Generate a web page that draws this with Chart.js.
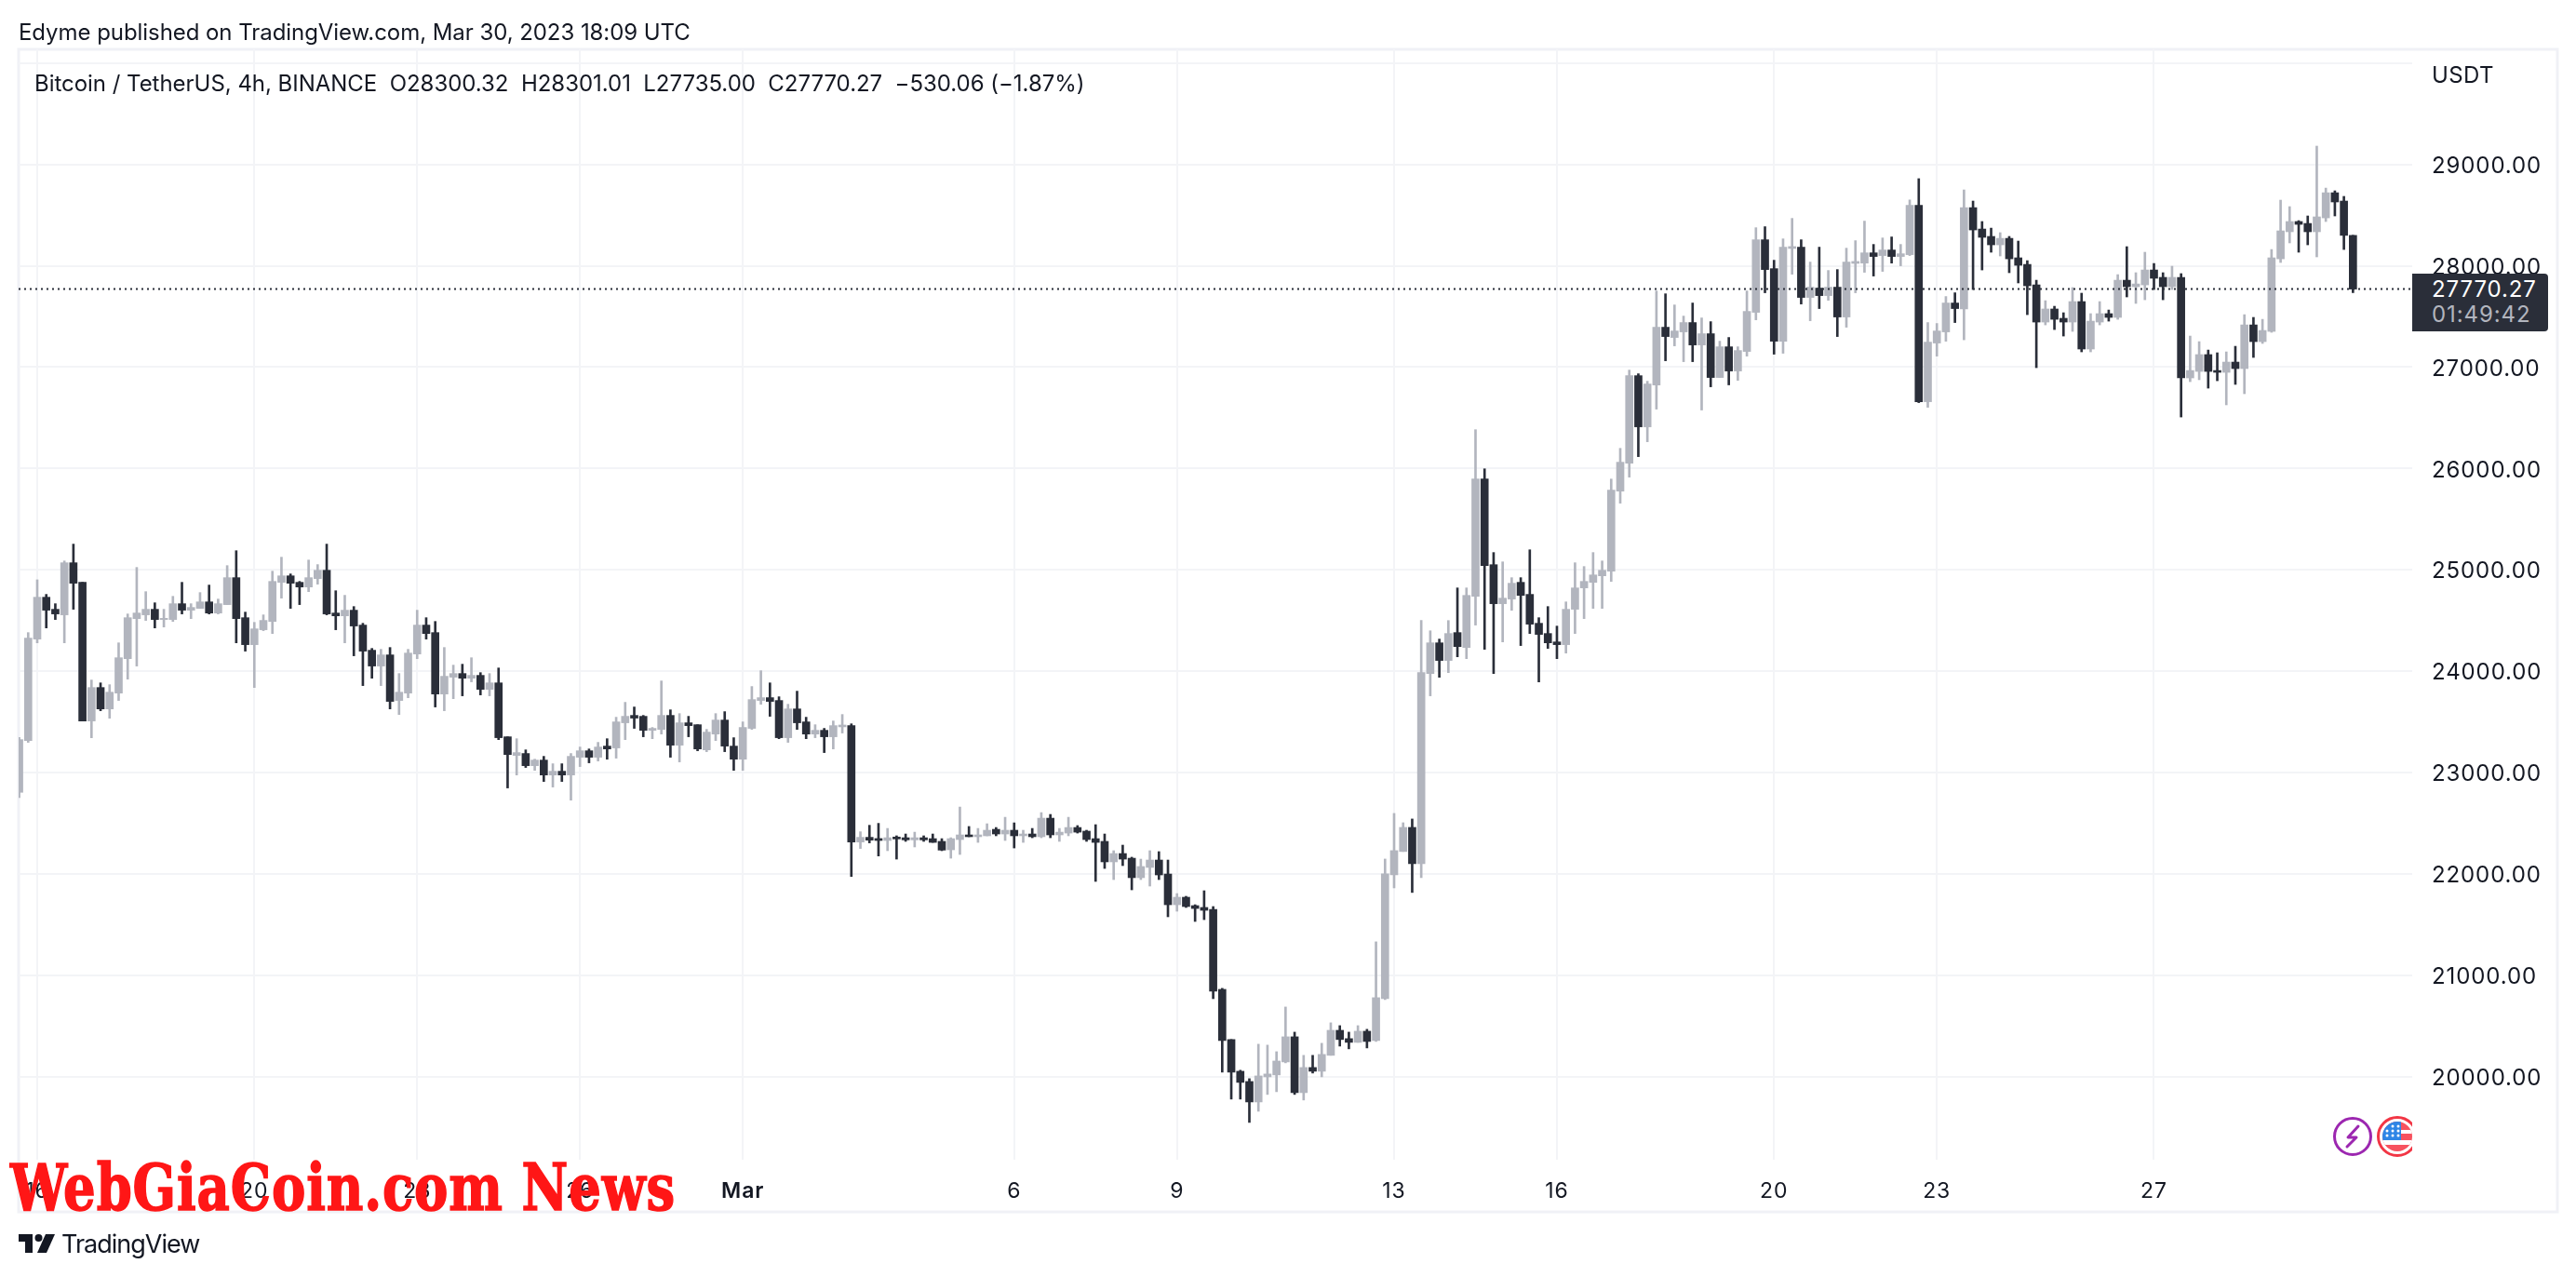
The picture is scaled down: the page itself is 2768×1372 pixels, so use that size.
<!DOCTYPE html>
<html><head><meta charset="utf-8">
<script src="https://cdn.jsdelivr.net/npm/chart.js@4"></script>
<style>
html,body{margin:0;padding:0;background:#fff;width:2768px;height:1372px;overflow:hidden}
#wrap{position:relative;width:2768px;height:1372px;font-family:Inter,"Noto Sans",sans-serif;color:#131722}
canvas{position:absolute;left:0;top:0}
.t{position:absolute;white-space:pre;line-height:1}
#tag{position:absolute;left:2592px;top:294px;width:146px;height:62px;background:#2a2e39;border-radius:0 4px 4px 0}
#wm{position:absolute;left:11px;top:1241px;white-space:pre;font:bold 70px "DejaVu Serif Condensed","DejaVu Serif",serif;color:#ff1616;line-height:1;transform-origin:0 0;letter-spacing:1px;-webkit-text-stroke:1.5px #ff1616}
</style></head><body><div id="wrap">
<canvas id="c" width="2768" height="1372"></canvas>
<div class="t" id="pub" style="left:20px;top:23px;font-size:24px;letter-spacing:-.06px">Edyme published on TradingView.com, Mar 30, 2023 18:09 UTC</div>
<div class="t" id="leg" style="left:37px;top:78px;font-size:24px;letter-spacing:-.03px">Bitcoin / TetherUS, 4h, BINANCE  O28300.32  H28301.01  L27735.00  C27770.27  −530.06 (−1.87%)</div>
<div class="t" style="left:2613px;top:69px;font-size:24px;letter-spacing:.4px">USDT</div>
<div id="tag"></div>
<div class="t" style="left:2613px;top:299px;font-size:24px;color:#fff;letter-spacing:.9px">27770.27</div>
<div class="t" style="left:2613px;top:326px;font-size:24px;color:#b2b5be;letter-spacing:.9px">01:49:42</div>
<svg style="position:absolute;left:2500px;top:1190px" width="92" height="60" viewBox="0 0 92 60">
<circle cx="28" cy="31" r="19.5" fill="#fff" stroke="#9c27b0" stroke-width="3"/>
<path d="M34 20 L23 32 H32 L22 42" fill="none" stroke="#9c27b0" stroke-width="3" stroke-linejoin="round" stroke-linecap="round"/>
<circle cx="76" cy="31" r="20.5" fill="#fff" stroke="#f23645" stroke-width="3"/>
<clipPath id="fl"><circle cx="76" cy="31" r="16"/></clipPath>
<g clip-path="url(#fl)"><rect x="60" y="15" width="32" height="32" fill="#f7525f"/>
<rect x="60" y="24" width="32" height="4" fill="#fff"/><rect x="60" y="35" width="32" height="5" fill="#fff"/>
<rect x="60" y="15" width="20" height="20" fill="#2f86e6"/>
<g fill="#fff"><circle cx="65" cy="25" r="1.5"/><circle cx="71" cy="25" r="1.5"/><circle cx="77" cy="25" r="1.5"/><circle cx="65" cy="30" r="1.5"/><circle cx="71" cy="30" r="1.5"/><circle cx="77" cy="30" r="1.5"/><circle cx="71" cy="20" r="1.5"/><circle cx="77" cy="20" r="1.5"/></g></g>
</svg>
<div id="wm">WebGiaCoin.com News</div>
<svg style="position:absolute;left:20px;top:1326px" width="40" height="20" viewBox="0 0 40 20">
<path d="M0 0H15V20H7V8H0Z" fill="#131722"/><circle cx="21.5" cy="4" r="4" fill="#131722"/><path d="M29 0H39L30 20H20Z" fill="#131722"/>
</svg>
<div class="t" style="left:66px;top:1323px;font-size:27px;letter-spacing:-1px">TradingView</div>
</div>
<script>
const opens=[22805,23316,24317,24730,24611,24556,25070,24877,23509,23839,
23628,23784,24124,24519,24556,24611,24510,24510,24666,24602,
24620,24684,24574,24657,24923,24528,24262,24409,24491,24877,
24941,24877,24831,24914,24996,24574,24546,24602,24455,24207,
24051,24161,23711,23784,24170,24455,24381,23775,23941,23977,
23931,23959,23821,23885,23353,23169,23188,23068,23123,22976,
23013,22976,23151,23215,23151,23261,23243,23491,23564,23555,
23417,23426,23564,23270,23491,23472,23224,23380,23518,23261,
23132,23436,23711,23739,23711,23344,23628,23500,23380,23417,
23353,23451,23463,22315,22361,22349,22330,22364,22357,22336,
22357,22348,22321,22238,22339,22385,22367,22376,22440,22394,
22431,22376,22394,22367,22550,22385,22403,22458,22422,22348,
22321,22119,22201,22155,21963,22064,22137,21999,21696,21770,
21687,21669,21650,20861,20366,20053,19952,19750,19998,20017,
20145,20393,19842,20090,20053,20210,20457,20375,20338,20448,
20356,20770,21991,22221,22459,22101,23977,24280,24106,24381,
24234,24739,25896,25051,24666,24712,24877,24758,24473,24372,
24289,24262,24611,24822,24877,24941,24987,25777,26053,26916,
26411,26824,27394,27293,27348,27440,27219,27330,26898,27201,
26962,27155,27541,28257,27972,27256,28171,28184,27688,27780,
27706,27789,27495,28024,28027,28128,28101,28156,28092,28110,
28597,26659,27238,27348,27633,27574,28574,28363,28290,28207,
28271,28079,28014,27812,27445,27574,27482,27445,27647,27179,
27445,27528,27491,27858,27794,27812,27959,27886,27794,27886,
26894,26958,27124,26967,26949,27050,26986,27417,27252,27353,
28069,28336,28437,28418,28336,28473,28721,28639,28300.32];
const closes=[23325,24326,24730,24602,24565,25070,24868,23509,23839,23628,
23793,24133,24528,24574,24611,24510,24522,24666,24602,24629,
24684,24574,24666,24923,24519,24262,24418,24501,24886,24941,
24868,24831,24923,24996,24565,24546,24602,24446,24198,24051,
24161,23702,23793,24179,24455,24372,23775,23950,23977,23931,
23959,23821,23885,23344,23178,23197,23068,23123,22976,23013,
22976,23160,23215,23151,23252,23233,23500,23555,23537,23417,
23436,23564,23270,23491,23463,23233,23399,23518,23261,23132,
23445,23720,23739,23702,23344,23628,23491,23380,23417,23353,
23463,23469,22315,22361,22333,22330,22357,22345,22336,22357,
22336,22311,22235,22348,22385,22367,22385,22431,22394,22431,
22376,22394,22367,22550,22385,22412,22458,22412,22339,22311,
22119,22201,22146,21963,22073,22137,21990,21696,21770,21678,
21659,21641,20842,20356,20044,19943,19750,20007,20026,20154,
20393,19842,20090,20053,20219,20457,20366,20338,20448,20347,
20779,22000,22230,22459,22101,23986,24280,24106,24372,24243,
24748,25896,25042,24666,24721,24868,24748,24464,24363,24280,
24262,24611,24822,24886,24950,24996,25786,26062,26916,26411,
26834,27394,27302,27357,27440,27219,27330,26898,27201,26962,
27164,27550,28257,27963,27256,28184,28190,27688,27789,27706,
27789,27495,28037,28043,28128,28092,28156,28092,28119,28597,
26659,27247,27357,27633,27578,28574,28354,28281,28207,28271,
28069,28005,27803,27445,27574,27472,27445,27647,27179,27454,
27528,27491,27858,27794,27821,27959,27877,27794,27886,26894,
26967,27124,26958,26949,27050,26986,27417,27252,27362,28079,
28345,28437,28409,28336,28483,28721,28630,28300.32,27770.27];
const highs=[23347,24381,24902,24758,24666,25088,25254,24877,23913,23885,
23867,24280,24565,25024,24785,24675,24611,24739,24877,24666,
24776,24850,24712,25042,25189,24583,24482,24556,24987,25125,
24960,24886,25097,25052,25254,24794,24749,24638,24473,24225,
24216,24234,23977,24216,24602,24528,24491,24234,24060,24069,
24133,23986,23977,24032,23353,23334,23224,23132,23160,23087,
23087,23188,23252,23233,23298,23334,23546,23693,23647,23564,
23445,23904,23619,23582,23555,23472,23426,23582,23601,23344,
23500,23849,24005,23885,23748,23674,23803,23546,23472,23436,
23509,23573,23481,22416,22480,22499,22449,22376,22394,22412,
22376,22394,22348,22357,22660,22468,22449,22495,22458,22559,
22504,22431,22449,22605,22587,22449,22559,22477,22431,22486,
22394,22229,22284,22165,22146,22229,22220,22137,21806,21779,
21696,21834,21678,20871,20366,20063,19980,20320,20311,20246,
20687,20439,20210,20210,20329,20531,20503,20439,20503,20467,
21330,22147,22597,22505,22542,24500,24399,24317,24500,24822,
24822,26383,25997,25171,25079,24923,24923,25198,24528,24638,
24445,24684,25070,25033,25171,25088,25896,26199,26971,26935,
26861,27752,27724,27614,27504,27633,27486,27449,27256,27293,
27201,27752,28376,28386,28055,28266,28468,28257,28037,28184,
27954,27963,28174,28248,28441,28211,28275,28285,28211,28650,
28860,27440,27431,27697,27734,28749,28639,28437,28372,28327,
28290,28244,28051,27858,27656,27601,27537,27785,27730,27528,
27647,27564,27913,28189,27932,28134,28023,27932,27996,27923,
27307,27252,27169,27142,27151,27206,27518,27491,27472,28161,
28648,28584,28446,28492,29181,28767,28740,28685,28301.01];
const lows=[22753,23298,24280,24427,24510,24280,24611,23509,23343,23610,
23536,23711,23922,24051,24501,24427,24436,24491,24565,24519,
24620,24565,24565,24657,24280,24198,23839,24400,24372,24721,
24620,24657,24785,24859,24556,24409,24280,24152,23858,23931,
23858,23628,23573,23738,24124,24317,23647,23610,23729,23757,
23895,23766,23757,23325,22848,22976,23050,23022,22912,22857,
22912,22728,23059,23096,23114,23132,23142,23325,23436,23353,
23334,23380,23151,23105,23353,23215,23206,23316,23206,23022,
23022,23426,23674,23555,23334,23298,23426,23334,23344,23197,
23233,23390,21975,22251,22306,22177,22229,22146,22321,22266,
22321,22311,22229,22155,22192,22367,22311,22376,22376,22330,
22256,22311,22357,22357,22357,22321,22376,22403,22321,21926,
22054,21944,22082,21843,21944,21880,21944,21577,21632,21669,
21531,21549,20769,20044,19778,19778,19548,19658,19824,19851,
20136,19824,19769,20035,19998,20210,20301,20274,20338,20283,
20347,20760,21862,22221,21817,21963,23757,23940,23986,24142,
24124,24455,24216,23977,24289,24601,24253,24372,23894,24225,
24124,24179,24372,24519,24620,24620,24886,25658,25915,26117,
26264,26586,27063,27210,27054,27054,26577,26806,26898,26825,
26870,27109,27467,27734,27128,27137,27917,27623,27458,27578,
27660,27302,27394,27734,27936,27899,27945,28027,28000,28101,
26650,26604,27109,27256,27440,27270,27766,27959,28134,28097,
27932,27831,27518,26995,27417,27371,27307,27353,27151,27151,
27417,27454,27472,27693,27629,27665,27766,27665,27766,26508,
26857,26876,26793,26866,26628,26830,26738,27096,27234,27344,
28033,28226,28134,28207,28088,28437,28492,28161,27735];
const timeLabels=["16","20","23","26","Mar","6","9","13","16","20","23","27"];
const timeBarIndex=[2,26,44,62,80,110,128,152,170,194,212,236];
const priceTicks=[20000,21000,22000,23000,24000,25000,26000,27000,28000,29000,30000];
const lastPrice=27770.27;
const UP="#b2b5be",DOWN="#2a2e39",GRID="#f3f4f7",INK="#131722";
const xMin=-0.0577,xMax=264.55,yMin=19180,yMax=30136;
const barColors=closes.map((c,i)=>c>=opens[i]?UP:DOWN);
const framePlugin={id:"frame",beforeDraw(ch){const x=ch.ctx;x.save();x.strokeStyle="#f0f1f6";x.lineWidth=3;x.strokeRect(20,53,2728,1249);x.restore();x.letterSpacing="0.9px";}};
new Chart(document.getElementById("c"),{
 type:"bar",
 plugins:[framePlugin],
 data:{datasets:[
  {type:"line",data:[{x:xMin,y:lastPrice},{x:xMax,y:lastPrice}],borderColor:DOWN,borderWidth:2,borderDash:[2,4],pointRadius:0,order:0},
  {data:highs.map((h,i)=>({x:i,y:[lows[i],h]})),backgroundColor:barColors,barThickness:2,grouped:false,order:2},
  {data:opens.map((o,i)=>({x:i,y:[o,closes[i]]})),backgroundColor:barColors,barThickness:8,grouped:false,order:1}
 ]},
 options:{
  responsive:false,animation:false,devicePixelRatio:1,
  layout:{padding:{left:20,right:20,top:53,bottom:70}},
  plugins:{legend:{display:false},title:{display:false},tooltip:{enabled:false}},
  scales:{
   x:{type:"linear",offset:false,min:xMin,max:xMax,
    afterBuildTicks(s){s.ticks=timeBarIndex.map(v=>({value:v}));},
    afterFit(s){s.height=56;},
    grid:{color:GRID,lineWidth:2,drawTicks:false,offset:false},border:{display:false},
    ticks:{autoSkip:false,maxRotation:0,padding:20,color:INK,
     callback(v){const k=timeBarIndex.indexOf(v);return k<0?"":timeLabels[k];},
     font(c){const bold=c.tick&&c.tick.label==="Mar";return {family:"Inter",size:23,weight:bold?"600":"400"};}}},
   y:{type:"linear",position:"right",min:yMin,max:yMax,
    afterBuildTicks(s){s.ticks=priceTicks.map(v=>({value:v}));},
    afterFit(s){s.width=156;},
    grid:{color:GRID,lineWidth:2,drawTicks:false},border:{display:false},
    ticks:{autoSkip:false,padding:21,labelOffset:2,color:INK,font:{family:"Inter",size:24},
     callback(v){return v>=30000?"":v.toFixed(2);}}}
  }
 }
});
const wm=document.getElementById("wm");
const w=wm.getBoundingClientRect().width;
wm.style.transform="scaleX("+(715/w)+")";
</script></body></html>
